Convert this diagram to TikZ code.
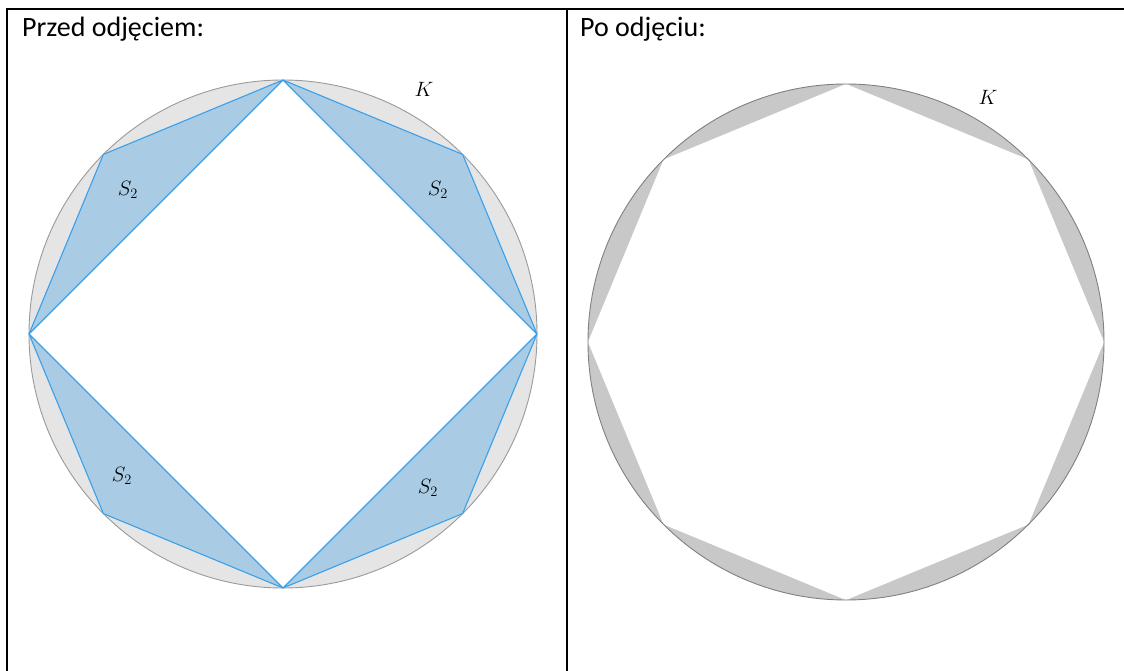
\documentclass[tikz,border=0pt]{standalone}
\usepackage{fontspec}
\setmainfont{Carlito}
\usepackage{tikz}
\usetikzlibrary{calc}
\definecolor{RingGray}{HTML}{E5E5E5}
\definecolor{RingLine}{HTML}{9A9A9A}
\definecolor{WedgeBlue}{HTML}{A9CCE4}
\definecolor{WedgeLine}{HTML}{3AA0EA}
\definecolor{SegGray}{HTML}{C8C8C8}
\definecolor{SegLine}{HTML}{808080}

\begin{document}
\begin{tikzpicture}[
  x=1pt, y=-1pt,
  frame/.style={line width=2.5pt, black},
  title/.style={font=\fontsize{28}{32}\selectfont, anchor=base west, inner sep=0pt},
  mlbl/.style={font=\fontsize{21}{25}\selectfont, inner sep=0pt},
  ring/.style={fill=RingGray, draw=RingLine, line width=0.9pt},
  wedge/.style={fill=WedgeBlue, draw=WedgeLine, line width=1.1pt, line join=round},
  seg/.style={fill=SegGray, draw=SegLine, line width=0.9pt},
]
  \useasboundingbox (0,0) rectangle (1124,671);

  % table frame
  \draw[frame] (7,671) -- (7,9) -- (1124,9);
  \draw[frame] (567,9) -- (567,671);
  \node[title] (before) at (22,37) {Przed odjęciem:};
  \node[title] (after) at (580,37) {Po odjęciu:};

  % left: circle, square and S_2 triangles
  \coordinate (cL) at (283,334);
  \filldraw[ring] (cL) circle (254pt);
  \fill[white] ($(cL)+(0:254)$) -- ($(cL)+(90:254)$) -- ($(cL)+(180:254)$) -- ($(cL)+(270:254)$) -- cycle;
  \foreach \a in {0,90,180,270}
    \filldraw[wedge] ($(cL)+(\a:254)$) -- ($(cL)+(\a+45:254)$) -- ($(cL)+(\a+90:254)$) -- cycle;
  \node[mlbl] (kL) at (424,89) {$K$};
  \node[mlbl] (s2a) at (128,190) {$S_2$};
  \node[mlbl] (s2b) at (438,190) {$S_2$};
  \node[mlbl] (s2c) at (122,476) {$S_2$};
  \node[mlbl] (s2d) at (428,488) {$S_2$};

  % right: circle minus octagon
  \coordinate (cR) at (846,342);
  \fill[SegGray] (cR) circle (258pt);
  \fill[white] ($(cR)+(0:258)$) \foreach \a in {45,90,...,315} { -- ($(cR)+(\a:258)$) } -- cycle;
  \draw[SegLine, line width=0.9pt] (cR) circle (258pt);
  \node[mlbl] (kR) at (988,97) {$K$};
\end{tikzpicture}
\end{document}
